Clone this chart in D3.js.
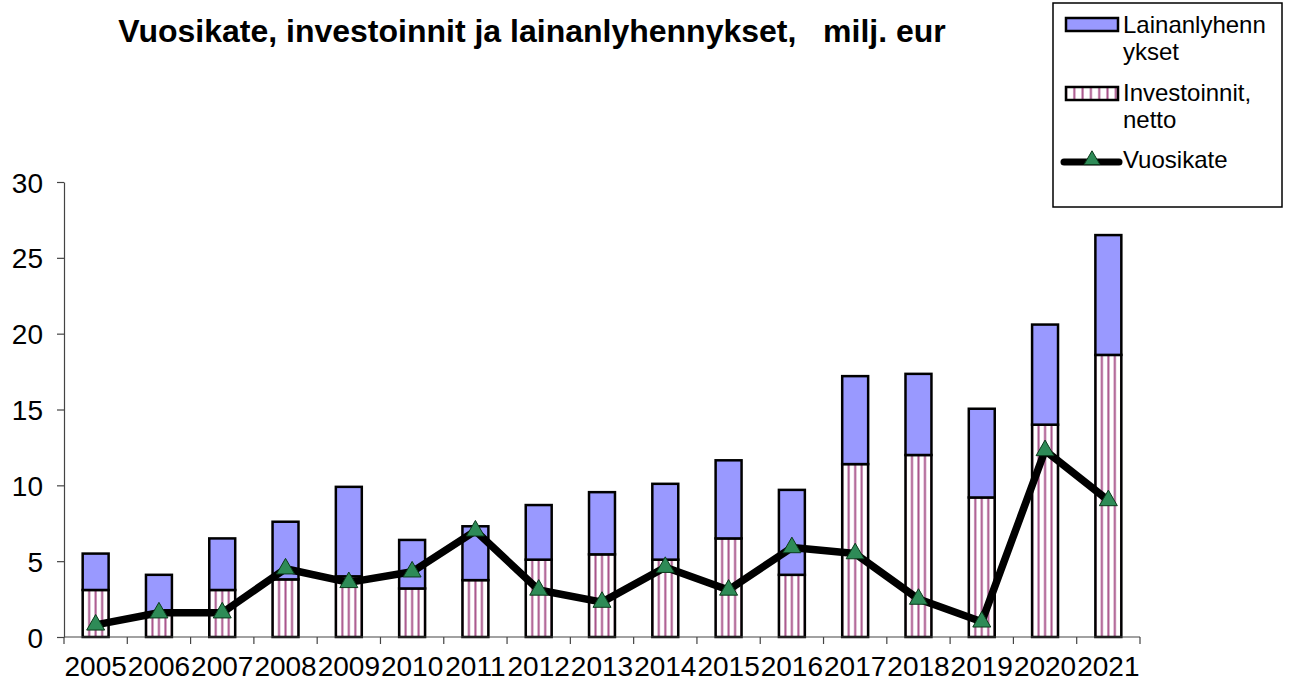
<!DOCTYPE html>
<html><head><meta charset="utf-8">
<script src="https://cdn.jsdelivr.net/npm/d3@7"></script>
<style>body{margin:0;background:#fff}svg{display:block;font-family:"Liberation Sans",Arial,sans-serif}</style>
</head><body><svg id="c" width="1290" height="682"></svg>
<script>
const years = ["2005","2006","2007","2008","2009","2010","2011","2012","2013","2014","2015","2016","2017","2018","2019","2020","2021"];
const investoinnit = [3.1,1.6,3.1,3.8,4.0,3.2,3.75,5.1,5.45,5.1,6.5,4.1,11.4,12.0,9.2,14.0,18.6];
const lainanlyhennykset = [2.4,2.5,3.4,3.8,5.9,3.2,3.55,3.6,4.1,5.0,5.15,5.6,5.8,5.35,5.85,6.6,7.9];
const vuosikate = [0.8,1.6,1.6,4.5,3.6,4.3,7.0,3.1,2.3,4.6,3.1,5.9,5.5,2.5,1.0,12.3,9.0];
const yTicks = [0,5,10,15,20,25,30];

const svg = d3.select("#c");
const x = d3.scaleBand().domain(years).range([64,1140]).paddingInner(0.59).paddingOuter(0.295);
const xb = d3.scaleBand().domain(years).range([64,1140]);
const y = d3.scaleLinear().domain([0,30]).range([637,182]);
const stripe = "#A8538A";

const defs = svg.append("defs");
function makePattern(id, x0, period){
  const p = defs.append("pattern").attr("id",id).attr("patternUnits","userSpaceOnUse")
    .attr("x",x0 - period/2).attr("y",0).attr("width",period).attr("height",10);
  p.append("rect").attr("width",period).attr("height",10).attr("fill","#fff");
  p.append("rect").attr("x",period/2-1).attr("width",2).attr("height",10).attr("fill",stripe);
}

svg.append("text").attr("x",532).attr("y",42).attr("text-anchor","middle").attr("font-size",32).attr("font-weight","bold").style("white-space","pre")
  .text("Vuosikate, investoinnit ja lainanlyhennykset,   milj. eur");

// y axis
const ya = svg.append("g").attr("transform","translate(64,0)").call(d3.axisLeft(y).tickValues(yTicks).tickSize(7).tickSizeOuter(0));
ya.select(".domain").attr("stroke","#444").attr("stroke-width",1.2);
ya.selectAll(".tick line").attr("stroke","#444").attr("stroke-width",1.2);
ya.selectAll("text").attr("font-size",28).attr("fill","#000").attr("x",-21).attr("dy","0.36em").attr("font-family","Liberation Sans, Arial, sans-serif");

// bars
const g = svg.append("g");
years.forEach((yr,i)=>{
  const x0 = x(yr), w = x.bandwidth();
  makePattern("h"+i, x0, w/4);
  g.append("rect").attr("x",x0).attr("y",y(investoinnit[i])).attr("width",w).attr("height",y(0)-y(investoinnit[i]))
   .attr("fill",`url(#h${i})`).attr("stroke","#000").attr("stroke-width",2.5);
  const top = investoinnit[i]+lainanlyhennykset[i];
  g.append("rect").attr("x",x0).attr("y",y(top)).attr("width",w).attr("height",y(investoinnit[i])-y(top))
   .attr("fill","#9999FF").attr("stroke","#000").attr("stroke-width",2.5);
});

// x axis
const xa = svg.append("g").attr("transform","translate(0,637)");
xa.append("line").attr("x1",64).attr("x2",1140).attr("stroke","#444").attr("stroke-width",1.2);
const bounds = years.map(d=>xb(d)).concat([1140]);
xa.selectAll(".tk").data(bounds).join("line").attr("x1",d=>d).attr("x2",d=>d).attr("y1",0).attr("y2",7).attr("stroke","#444").attr("stroke-width",1.2);
xa.selectAll(".lb").data(years).join("text").attr("x",d=>xb(d)+xb.bandwidth()/2).attr("y",39).attr("text-anchor","middle").attr("font-size",28).text(d=>d);

// line
const line = d3.line().x((d,i)=>x(years[i])+x.bandwidth()/2).y(d=>y(d));
svg.append("path").datum(vuosikate).attr("d",line).attr("fill","none").attr("stroke","#000").attr("stroke-width",7.5).attr("stroke-linejoin","round");
const tri = d3.symbol().type(d3.symbolTriangle).size(140);
svg.selectAll(".m").data(vuosikate).join("path").attr("d",tri)
  .attr("transform",(d,i)=>`translate(${x(years[i])+x.bandwidth()/2},${y(d)})`)
  .attr("fill","#2E8B57").attr("stroke","#0a3a1a").attr("stroke-width",1);

// legend
const lg = svg.append("g");
lg.append("rect").attr("x",1053).attr("y",3).attr("width",229).attr("height",204).attr("fill","#fff").attr("stroke","#000").attr("stroke-width",1.5);
makePattern("hl", 1066, 8.3);
lg.append("rect").attr("x",1066).attr("y",18).attr("width",52).attr("height",13).attr("fill","#9999FF").attr("stroke","#000").attr("stroke-width",2.5);
lg.append("rect").attr("x",1066).attr("y",87).attr("width",52).attr("height",13).attr("fill","url(#hl)").attr("stroke","#000").attr("stroke-width",2.5);
lg.append("line").attr("x1",1064).attr("x2",1119).attr("y1",162).attr("y2",162).attr("stroke","#000").attr("stroke-width",7).attr("stroke-linecap","round");
lg.append("path").attr("d",d3.symbol().type(d3.symbolTriangle).size(110)).attr("transform","translate(1092,160)").attr("fill","#2E8B57").attr("stroke","#0a3a1a");
const lt = [["Lainanlyhenn",33],["ykset",60],["Investoinnit,",101],["netto",128],["Vuosikate",168]];
lg.selectAll(".lt").data(lt).join("text").attr("x",1123).attr("y",d=>d[1]).attr("font-size",24).text(d=>d[0]);
</script></body></html>
